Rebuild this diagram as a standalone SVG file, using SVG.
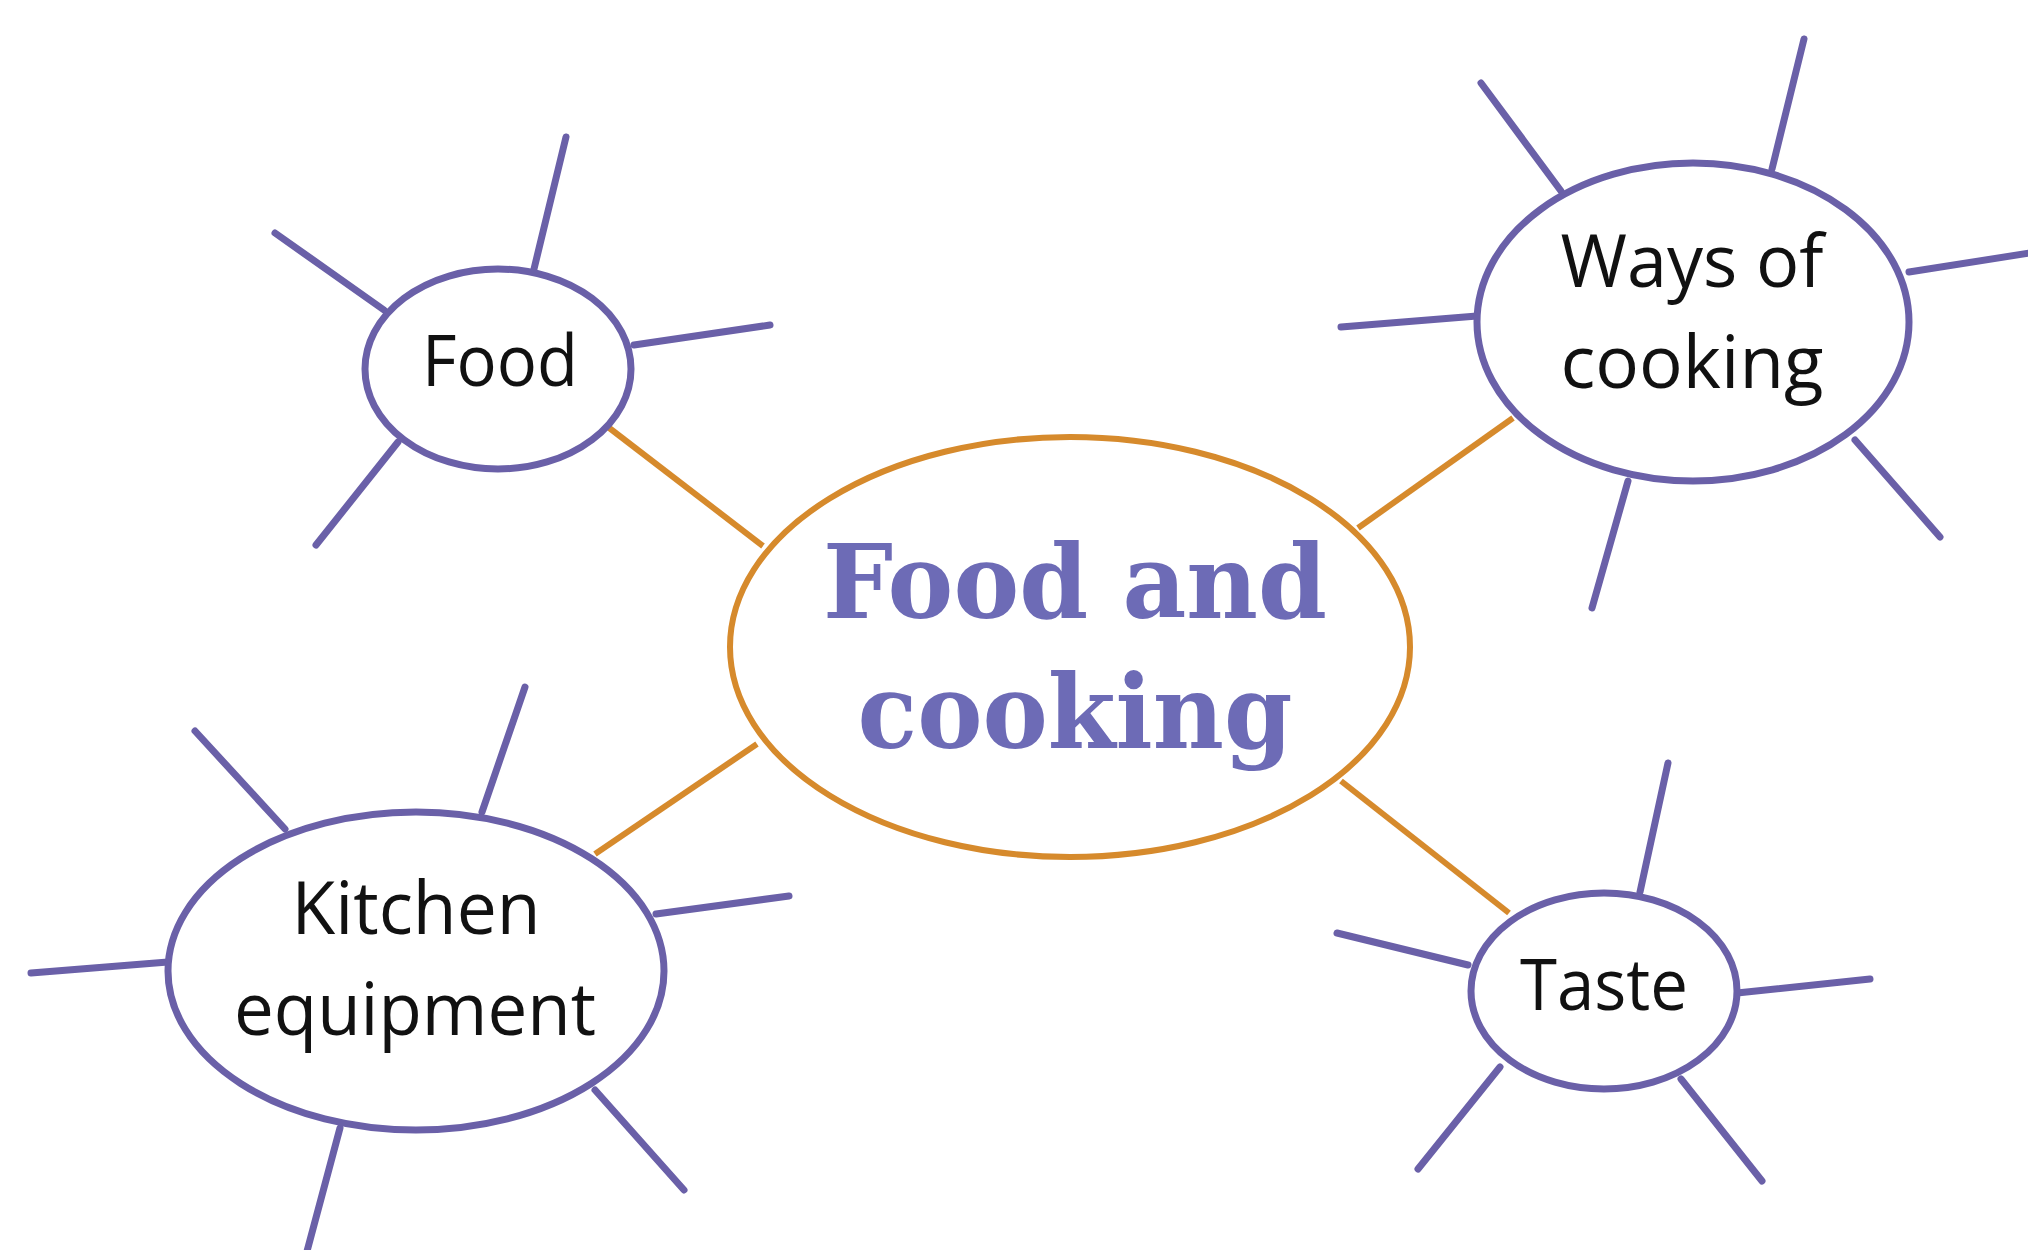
<svg xmlns="http://www.w3.org/2000/svg" width="2028" height="1250" viewBox="0 0 2028 1250">
<style>
.bg{fill:#ffffff}
.spoke{stroke:#6a60a8;stroke-width:7;stroke-linecap:round;fill:none}
.link{stroke:#d68a2c;stroke-width:6;fill:none}
.node{fill:#ffffff;stroke:#6a60a8;stroke-width:7}
.hub{fill:#ffffff;stroke:#d68a2c;stroke-width:6}
.lbl{font-family:"Open Sans","Noto Sans","Liberation Sans",sans-serif;font-weight:500;fill:#111111;text-anchor:middle}
.title{font-family:"DejaVu Serif","Liberation Serif",serif;font-weight:bold;fill:#6d6bb6;text-anchor:middle}
</style>
<rect class="bg" x="0" y="0" width="2028" height="1250"/>
<g id="connectors">
<line class="link" x1="608" y1="427" x2="763" y2="546"/>
<line class="link" x1="1358" y1="528" x2="1513" y2="418"/>
<line class="link" x1="595" y1="854" x2="757" y2="744"/>
<line class="link" x1="1341" y1="781" x2="1509" y2="913"/>
<line class="spoke" x1="534" y1="269" x2="566" y2="137"/>
<line class="spoke" x1="384" y1="310" x2="275" y2="233"/>
<line class="spoke" x1="634" y1="345" x2="770" y2="325"/>
<line class="spoke" x1="398" y1="442" x2="316" y2="545"/>
<line class="spoke" x1="1561" y1="191" x2="1481" y2="83"/>
<line class="spoke" x1="1772" y1="169" x2="1804" y2="39"/>
<line class="spoke" x1="1909" y1="272" x2="2030" y2="253"/>
<line class="spoke" x1="1477" y1="316" x2="1341" y2="327"/>
<line class="spoke" x1="1855" y1="440" x2="1940" y2="537"/>
<line class="spoke" x1="1628" y1="481" x2="1592" y2="608"/>
<line class="spoke" x1="285" y1="829" x2="195" y2="731"/>
<line class="spoke" x1="482" y1="812" x2="525" y2="687"/>
<line class="spoke" x1="656" y1="914" x2="789" y2="896"/>
<line class="spoke" x1="168" y1="962" x2="31" y2="973"/>
<line class="spoke" x1="595" y1="1090" x2="684" y2="1190"/>
<line class="spoke" x1="340" y1="1128" x2="306" y2="1255"/>
<line class="spoke" x1="1640" y1="892" x2="1668" y2="763"/>
<line class="spoke" x1="1468" y1="965" x2="1337" y2="933"/>
<line class="spoke" x1="1737" y1="993" x2="1870" y2="979"/>
<line class="spoke" x1="1500" y1="1067" x2="1418" y2="1169"/>
<line class="spoke" x1="1681" y1="1079" x2="1762" y2="1181"/>
</g>
<g id="hub">
<ellipse class="hub" cx="1070" cy="647" rx="340" ry="210"/>
<text class="title" x="1075" y="618" font-size="102" textLength="504" lengthAdjust="spacingAndGlyphs">Food and</text>
<text class="title" x="1075" y="748" font-size="102" textLength="435" lengthAdjust="spacingAndGlyphs">cooking</text>
</g>
<g id="food">
<ellipse class="node" cx="498" cy="369" rx="133" ry="100"/>
<text class="lbl" x="500" y="386" font-size="72" textLength="156" lengthAdjust="spacingAndGlyphs">Food</text>
</g>
<g id="ways">
<ellipse class="node" cx="1693" cy="322" rx="216" ry="159"/>
<text class="lbl" x="1692" y="287" font-size="74" textLength="263" lengthAdjust="spacingAndGlyphs">Ways of</text>
<text class="lbl" x="1692" y="388" font-size="74" textLength="263" lengthAdjust="spacingAndGlyphs">cooking</text>
</g>
<g id="kitchen">
<ellipse class="node" cx="416" cy="971" rx="248" ry="159"/>
<text class="lbl" x="416" y="934" font-size="74" textLength="249" lengthAdjust="spacingAndGlyphs">Kitchen</text>
<text class="lbl" x="415" y="1035" font-size="74" textLength="362" lengthAdjust="spacingAndGlyphs">equipment</text>
</g>
<g id="taste">
<ellipse class="node" cx="1604" cy="991" rx="133" ry="98"/>
<text class="lbl" x="1604" y="1010" font-size="72" textLength="168" lengthAdjust="spacingAndGlyphs">Taste</text>
</g>
</svg>
